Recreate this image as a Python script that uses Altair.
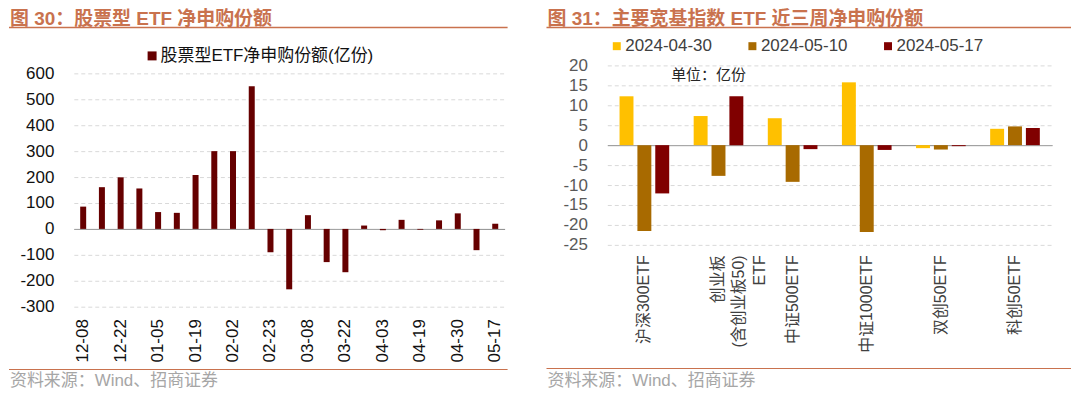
import altair as alt
import pandas as pd

# ---------------- Left chart data ----------------
dates = ["12-08", "12-15", "12-22", "12-29", "01-05", "01-12", "01-19", "01-26",
         "02-02", "02-08", "02-23", "03-01", "03-08", "03-15", "03-22", "03-29",
         "04-03", "04-12", "04-19", "04-26", "04-30", "05-10", "05-17"]
flows = [86, 161, 199, 156, 65, 62, 208, 300, 300, 550, -90, -233, 53, -128,
         -167, 13, -5, 35, -3, 33, 60, -82, 20]
label_dates = dates[::2]
series_name = "股票型ETF净申购份额(亿份)"
y1_ticks = [-300, -200, -100, 0, 100, 200, 300, 400, 500, 600]

# ---------------- Right chart data ----------------
etfs = ["沪深300ETF", "创业板|(含创业板50)|ETF", "中证500ETF", "中证1000ETF", "双创50ETF", "科创50ETF"]
weeks = ["2024-04-30", "2024-05-10", "2024-05-17"]
v0430 = [12.25, 7.3, 6.75, 15.75, -0.75, 4.1]
v0510 = [-21.5, -7.7, -9.2, -21.75, -1.1, 4.7]
v0517 = [-12.1, 12.25, -1.0, -1.2, -0.25, 4.3]
week_colors = ["#FFC000", "#A86A00", "#800000"]
y2_ticks = [-25, -20, -15, -10, -5, 0, 5, 10, 15, 20]

title1 = "图 30：股票型 ETF 净申购份额"
title2 = "图 31：主要宽基指数 ETF 近三周净申购份额"
source = "资料来源：Wind、招商证券"
unit_note = "单位：亿份"

FONT = "Liberation Sans, Noto Sans CJK SC, sans-serif"
ORANGE = "#C9724E"

df1 = pd.DataFrame({"date": dates, "flow": flows, "series": series_name})
rows = []
for i, e in enumerate(etfs):
    for w, vals in zip(weeks, [v0430, v0510, v0517]):
        rows.append({"etf": e, "week": w, "value": vals[i]})
df2 = pd.DataFrame(rows)

one = pd.DataFrame({"k": [0]})


def decorations(title, left, right, title_y, rule_y, src_rule_y, src_y):
    t = alt.Chart(pd.DataFrame({"t": [title]})).mark_text(
        align="left", baseline="top", font=FONT, fontSize=19, fontWeight="bold", color=ORANGE
    ).encode(text="t:N", x=alt.value(left + 1), y=alt.value(title_y))
    r1 = alt.Chart(one).mark_rule(color=ORANGE, strokeWidth=1.5).encode(
        x=alt.value(left), x2=alt.value(right), y=alt.value(rule_y))
    r2 = alt.Chart(one).mark_rule(color=ORANGE, strokeWidth=1.2).encode(
        x=alt.value(left), x2=alt.value(right), y=alt.value(src_rule_y))
    s = alt.Chart(pd.DataFrame({"t": [source]})).mark_text(
        align="left", baseline="top", font=FONT, fontSize=17, color="#A6A6A6"
    ).encode(text="t:N", x=alt.value(left + 1), y=alt.value(src_y))
    return [t, r1, r2, s]


LABEL_EXPR = "'' + datum.value"


def y_axis(values, color):
    return alt.Axis(
        values=values, labelExpr=LABEL_EXPR, labelFontSize=17, labelFont=FONT,
        labelColor=color, labelOverlap=False, labelSeparation=0,
        domain=False, ticks=False, tickSize=0, labelPadding=20, grid=True,
        gridColor=alt.condition("datum.value == 0", alt.value("#808080"), alt.value("#D9D9D9")),
        gridDash=alt.condition("datum.value == 0", alt.value([1, 0]), alt.value([4, 3])),
        gridWidth=1,
    )


# ---------------- Left panel ----------------
# plot area top is shared with the right panel; extra headroom above 600
W1, H1 = 432, 242
y1_max = 600 + 8 * 900 / 234
bars1 = alt.Chart(df1).mark_bar().encode(
    x=alt.X("date:N", sort=dates, title=None,
            scale=alt.Scale(paddingInner=0.68, paddingOuter=0.34),
            axis=alt.Axis(values=label_dates, labelAngle=270, labelFontSize=17, labelFont=FONT,
                          labelColor="#111111", domain=False, ticks=False, tickSize=0,
                          labelPadding=12, grid=False, labelOverlap=False)),
    y=alt.Y("flow:Q", title=None, scale=alt.Scale(domain=[-300, y1_max], nice=False, zero=False),
            axis=y_axis(y1_ticks, "#111111")),
    color=alt.Color("series:N", scale=alt.Scale(domain=[series_name], range=["#660000"]),
                    legend=alt.Legend(orient="none", legendX=70, legendY=-18, direction="horizontal",
                                      title=None, symbolType="square", symbolSize=81,
                                      symbolStrokeWidth=0, labelFontSize=17, labelFont=FONT,
                                      labelColor="#111111", labelLimit=400, labelOffset=0,
                                      padding=0)),
)
left = alt.layer(bars1, *decorations(title1, -65, 435, -55, -38, 305, 309)).properties(
    width=W1, height=H1)

# ---------------- Right panel ----------------
W2, H2 = 446, 180
bars2 = alt.Chart(df2).mark_bar().encode(
    x=alt.X("etf:N", sort=etfs, title=None,
            scale=alt.Scale(paddingInner=0.33, paddingOuter=0.165),
            axis=alt.Axis(labelAngle=270, labelExpr="split(datum.label, '|')", labelFontSize=16,
                          labelFont=FONT, labelColor="#404040", labelLineHeight=21,
                          domain=False, ticks=False, tickSize=0, labelPadding=10, grid=False,
                          labelLimit=300, labelOverlap=False)),
    xOffset=alt.XOffset("week:N", sort=weeks, scale=alt.Scale(paddingInner=0.22)),
    y=alt.Y("value:Q", title=None, scale=alt.Scale(domain=[-25, 20], nice=False, zero=False),
            axis=y_axis(y2_ticks, "#595959")),
    color=alt.Color("week:N", scale=alt.Scale(domain=weeks, range=week_colors),
                    legend=alt.Legend(orient="none", legendX=1, legendY=-28, direction="horizontal",
                                      title=None, symbolType="square", symbolSize=64,
                                      symbolStrokeWidth=0, labelFontSize=17, labelFont=FONT,
                                      labelColor="#404040", labelLimit=300, labelOffset=0,
                                      columnPadding=32, padding=0)),
)
note = alt.Chart(pd.DataFrame({"t": [unit_note]})).mark_text(
    align="left", baseline="middle", font=FONT, fontSize=15, color="#262626"
).encode(text="t:N", x=alt.value(64), y=alt.value(10))
right = alt.layer(bars2, note, *decorations(title2, -61, 465, -55, -38, 304, 309)).properties(
    width=W2, height=H2)

chart = alt.HConcatChart(
    hconcat=[left, right], spacing=37,
    padding={"top": 2, "left": 0, "right": 0, "bottom": 0},
).configure_view(stroke=None).resolve_scale(color="independent")

chart.save("out.html", embed_options={"renderer": "svg", "actions": False})
